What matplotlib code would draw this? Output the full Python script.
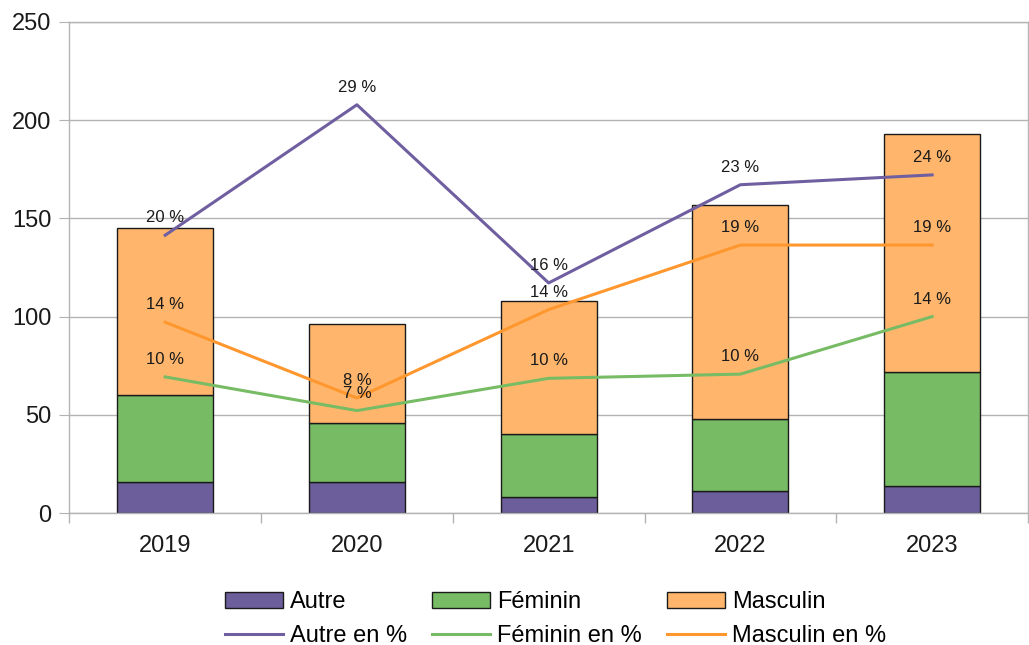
import matplotlib
matplotlib.use("Agg")
import matplotlib.pyplot as plt
import numpy as np
from matplotlib.ticker import FixedLocator, NullFormatter

plt.rcParams['font.family'] = ['Liberation Sans', 'DejaVu Sans']

years = ["2019", "2020", "2021", "2022", "2023"]
autre = [16, 16, 8, 11, 14]
feminin = [44, 30, 32, 37, 58]
masculin = [85, 50, 68, 109, 121]

autre_pct = [0.198, 0.291, 0.164, 0.234, 0.241]
feminin_pct = [0.097, 0.073, 0.096, 0.099, 0.140]
masculin_pct = [0.136, 0.082, 0.145, 0.191, 0.191]

c_autre = "#6b5e9b"
c_fem = "#77bc65"
c_masc = "#ffb66c"
c_autre_l = "#6f5fa0"
c_fem_l = "#77bc65"
c_masc_l = "#ff972f"
grid_c = "#b3b3b3"

fig = plt.figure(figsize=(10.29, 6.45), dpi=100)
ax = fig.add_axes([69.3/1029, (645-513)/645, (1028-69.3)/1029, (513-22)/645])

x = np.arange(len(years))
w = 0.5
b1 = ax.bar(x, autre, w, color=c_autre, edgecolor="#1a1a1a", linewidth=1, label="Autre")
b2 = ax.bar(x, feminin, w, bottom=autre, color=c_fem, edgecolor="#1a1a1a", linewidth=1, label="Féminin")
bot3 = np.array(autre) + np.array(feminin)
b3 = ax.bar(x, masculin, w, bottom=bot3, color=c_masc, edgecolor="#1a1a1a", linewidth=1, label="Masculin")

ax.set_xlim(-0.5, len(years) - 0.5)
ax.set_ylim(0, 250)
ax.set_yticks([0, 50, 100, 150, 200, 250])
ax.set_xticks(x)
ax.set_xticklabels(years)
ax.xaxis.set_minor_locator(FixedLocator(np.arange(-0.5, len(years), 1.0)))
ax.xaxis.set_minor_formatter(NullFormatter())
ax.tick_params(axis='x', which='major', length=0, labelsize=17, pad=16, labelcolor="#1a1a1a")
ax.tick_params(axis='x', which='minor', length=7.2, color=grid_c, width=1)
ax.tick_params(axis='y', length=7.2, color=grid_c, labelsize=17, pad=5.5, labelcolor="#1a1a1a")
ax.yaxis.grid(True, color=grid_c, linewidth=1)
ax.set_axisbelow(True)
for s in ax.spines.values():
    s.set_color(grid_c)
    s.set_linewidth(1)

ax2 = ax.twinx()
ax2.set_ylim(0, 0.35)
ax2.set_axis_off()
l1, = ax2.plot(x, autre_pct, color=c_autre_l, lw=2.2, label="Autre en %")
l2, = ax2.plot(x, feminin_pct, color=c_fem_l, lw=2.2, label="Féminin en %")
l3, = ax2.plot(x, masculin_pct, color=c_masc_l, lw=2.2, label="Masculin en %")

for series in (autre_pct, feminin_pct, masculin_pct):
    for xi, v in zip(x, series):
        ax2.annotate(f"{round(v*100):d} %", (xi, v), xytext=(0, 12.5), textcoords="offset points",
                     ha="center", va="center", fontsize=12, color="#1a1a1a")

handles = [b1, l1, b2, l2, b3, l3]
labels = [h.get_label() for h in handles]
fig.legend(handles, labels, ncol=3, loc="lower center", bbox_to_anchor=(0.54, -0.036),
           frameon=False, fontsize=17, handlelength=2.46, handleheight=0.7,
           handletextpad=0.3, columnspacing=1.05, labelspacing=0.5)

fig.savefig("out.png", dpi=100)
